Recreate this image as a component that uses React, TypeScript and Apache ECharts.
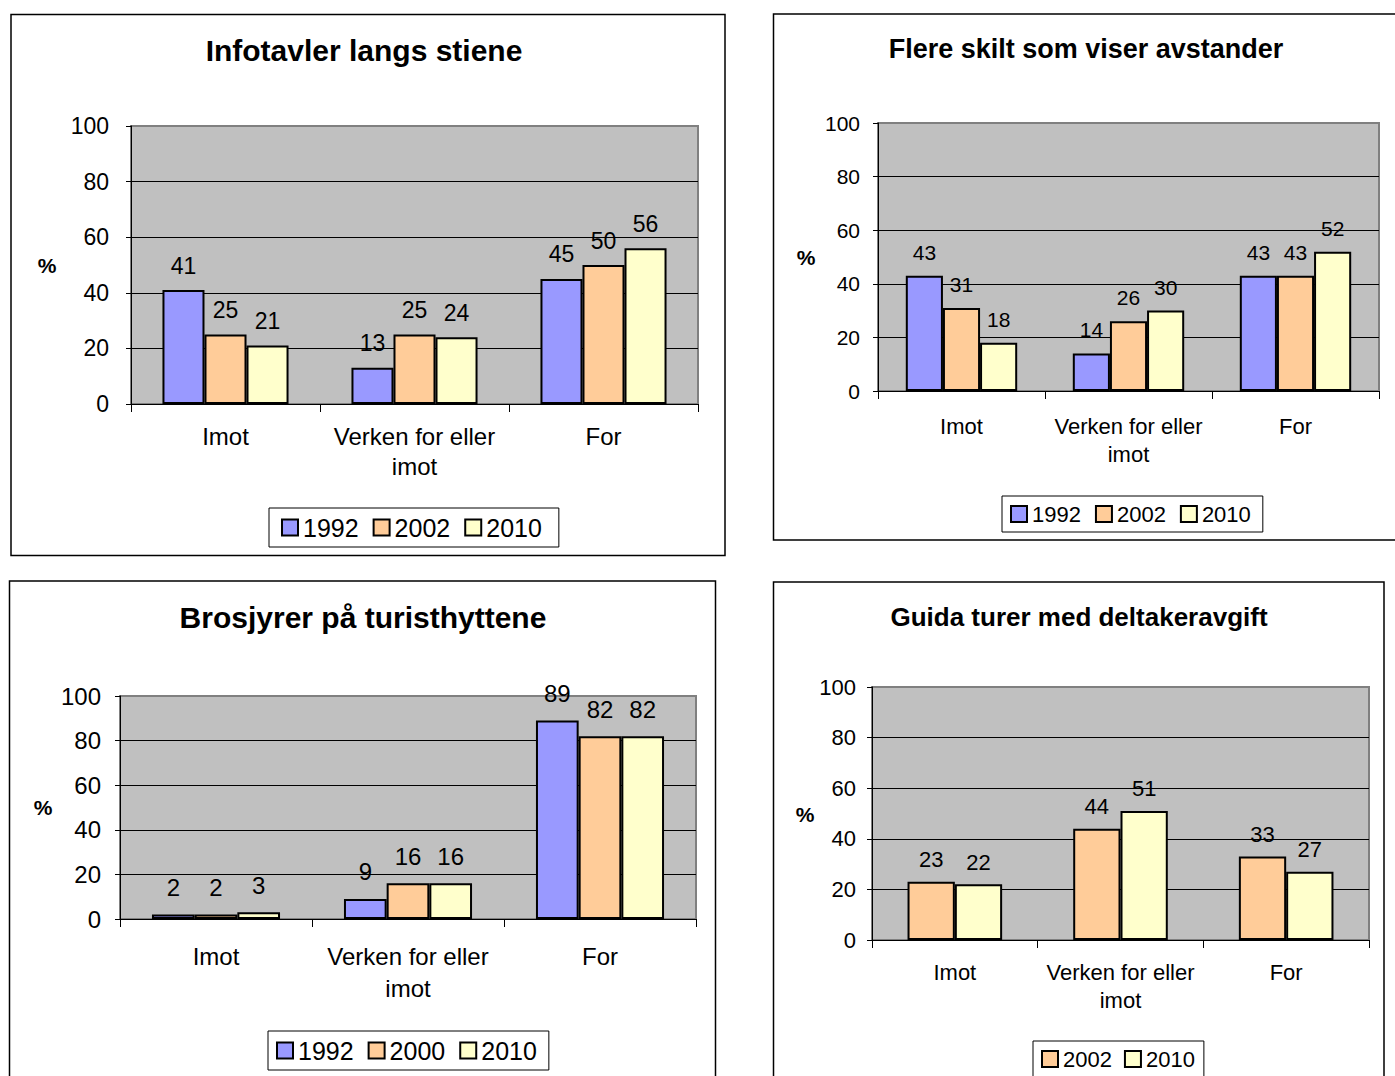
import React, { useEffect, useRef } from "react";
import * as echarts from "echarts";

const categories = ["Imot", "Verken for eller\nimot", "For"];
const yTicks = { min: 0, max: 100, interval: 20 };

// Panel 1: Infotavler langs stiene
const p1Title = "Infotavler langs stiene";
const p1Names = ["1992", "2002", "2010"];
const p1_1992 = [41, 13, 45];
const p1_2002 = [25, 25, 50];
const p1_2010 = [21, 24, 56];

// Panel 2: Flere skilt som viser avstander
const p2Title = "Flere skilt som viser avstander";
const p2Names = ["1992", "2002", "2010"];
const p2_1992 = [43, 14, 43];
const p2_2002 = [31, 26, 43];
const p2_2010 = [18, 30, 52];

// Panel 3: Brosjyrer på turisthyttene
const p3Title = "Brosjyrer på turisthyttene";
const p3Names = ["1992", "2000", "2010"];
const p3_1992 = [2, 9, 89];
const p3_2000 = [2, 16, 82];
const p3_2010 = [3, 16, 82];

// Panel 4: Guida turer med deltakeravgift
const p4Title = "Guida turer med deltakeravgift";
const p4Names = ["2002", "2010"];
const p4_2002 = [23, 44, 33];
const p4_2010 = [22, 51, 27];

const BLUE = "#9999FF";
const ORANGE = "#FFCC99";
const YELLOW = "#FFFFCC";
const FONT = '"Liberation Sans", Arial, sans-serif';

type Panel = {
  title: string;
  titleX: number;
  titleY: number;
  titleSize: number;
  pctX: number;
  pctY: number;
  frame: [number, number, number, number];
  grid: { left: number; top: number; width: number; height: number };
  font: number;
  catFont: number;
  catMargin: number;
  lineHeight: number;
  yMargin: number;
  labelDist: number;
  series: { name: string; data: number[]; color: string }[];
  legend: { left: number; top: number; font: number; gap: number; padding: number[]; names: string[] };
};

const panels: Panel[] = [
  {
    title: p1Title, titleX: 364, titleY: 50, titleSize: 30, pctX: 47, pctY: 265,
    frame: [11, 14.5, 714, 541],
    grid: { left: 131, top: 126, width: 567, height: 278 },
    font: 23, catFont: 24, catMargin: 17, lineHeight: 30, yMargin: 22, labelDist: 13,
    series: [
      { name: p1Names[0], data: p1_1992, color: BLUE },
      { name: p1Names[1], data: p1_2002, color: ORANGE },
      { name: p1Names[2], data: p1_2010, color: YELLOW },
    ],
    legend: { left: 269, top: 508, font: 25, gap: 14, padding: [7, 17, 7, 12], names: p1Names },
  },
  {
    title: p2Title, titleX: 1086, titleY: 49, titleSize: 27, pctX: 806, pctY: 257,
    frame: [773.5, 14, 640, 526],
    grid: { left: 878, top: 123, width: 501, height: 268 },
    font: 21, catFont: 22, catMargin: 21, lineHeight: 28, yMargin: 18, labelDist: 13,
    series: [
      { name: p2Names[0], data: p2_1992, color: BLUE },
      { name: p2Names[1], data: p2_2002, color: ORANGE },
      { name: p2Names[2], data: p2_2010, color: YELLOW },
    ],
    legend: { left: 1002, top: 496, font: 22, gap: 14, padding: [7, 12, 7, 8], names: p2Names },
  },
  {
    title: p3Title, titleX: 363, titleY: 617, titleSize: 30, pctX: 43, pctY: 807,
    frame: [9.5, 581, 706, 520],
    grid: { left: 120, top: 696, width: 576, height: 223 },
    font: 24, catFont: 24, catMargin: 21, lineHeight: 32, yMargin: 19, labelDist: 15,
    series: [
      { name: p3Names[0], data: p3_1992, color: BLUE },
      { name: p3Names[1], data: p3_2000, color: ORANGE },
      { name: p3Names[2], data: p3_2010, color: YELLOW },
    ],
    legend: { left: 268, top: 1031, font: 25, gap: 14, padding: [7, 12, 7, 8], names: p3Names },
  },
  {
    title: p4Title, titleX: 1079, titleY: 617, titleSize: 26, pctX: 805, pctY: 814,
    frame: [773.5, 582, 610.5, 520],
    grid: { left: 872, top: 687, width: 497, height: 253 },
    font: 22, catFont: 22, catMargin: 18, lineHeight: 28, yMargin: 16, labelDist: 11,
    series: [
      { name: p4Names[0], data: p4_2002, color: ORANGE },
      { name: p4Names[1], data: p4_2010, color: YELLOW },
    ],
    legend: { left: 1033, top: 1041, font: 22, gap: 12, padding: [7, 9, 7, 8], names: p4Names },
  },
];

function buildOption() {
  const grid: any[] = [];
  const xAxis: any[] = [];
  const yAxis: any[] = [];
  const series: any[] = [];
  const legend: any[] = [];
  const graphic: any[] = [];

  panels.forEach((p, i) => {
    grid.push({
      left: p.grid.left, top: p.grid.top, width: p.grid.width, height: p.grid.height,
      show: true, backgroundColor: "#C0C0C0", borderColor: "#808080", borderWidth: 2,
    });
    xAxis.push({
      type: "category", gridIndex: i, data: categories,
      axisLine: { lineStyle: { color: "#000", width: 1 } },
      axisTick: { show: true, length: 8, lineStyle: { color: "#000" } },
      axisLabel: { color: "#000", fontSize: p.catFont, fontFamily: FONT, margin: p.catMargin, lineHeight: p.lineHeight, interval: 0 },
    });
    yAxis.push({
      type: "value", gridIndex: i, min: yTicks.min, max: yTicks.max, interval: yTicks.interval,
      axisLine: { show: true, lineStyle: { color: "#000", width: 1 } },
      axisTick: { show: true, length: 5, lineStyle: { color: "#000" } },
      axisLabel: { color: "#000", fontSize: p.font, fontFamily: FONT, margin: p.yMargin },
      splitLine: { show: true, showMaxLine: false, showMinLine: false, lineStyle: { color: "#000", width: 1 } },
    });
    const gapPct = p.series.length === 3 ? "33.3%" : "42.9%";
    p.series.forEach((s) => {
      series.push({
        type: "bar", name: s.name, xAxisIndex: i, yAxisIndex: i, data: s.data,
        barGap: "0%", barCategoryGap: gapPct,
        itemStyle: { color: s.color, borderColor: "#000", borderWidth: 2 },
        label: {
          show: true, position: "top", distance: p.labelDist, color: "#000",
          fontSize: p.font, fontFamily: FONT,
        },
        emphasis: { disabled: true },
      });
    });
    legend.push({
      data: p.legend.names, left: p.legend.left, top: p.legend.top, orient: "horizontal",
      itemWidth: 16, itemHeight: 16, itemGap: p.legend.gap, icon: "rect",
      padding: p.legend.padding, borderColor: "#000", borderWidth: 1, backgroundColor: "#fff",
      itemStyle: { borderColor: "#000", borderWidth: 2 },
      textStyle: { color: "#000", fontSize: p.legend.font, fontFamily: FONT },
      selectedMode: false,
    });
    const [fx, fy, fw, fh] = p.frame;
    graphic.push({
      type: "rect", shape: { x: fx, y: fy, width: fw, height: fh }, z: -10,
      style: { fill: "transparent", stroke: "#000", lineWidth: 1.5 }, silent: true,
    });
    graphic.push({
      type: "text", x: p.titleX, y: p.titleY, silent: true,
      style: {
        text: p.title, fill: "#000", font: `bold ${p.titleSize}px ${FONT}`,
        textAlign: "center", textVerticalAlign: "middle", align: "center", verticalAlign: "middle",
      },
    });
    graphic.push({
      type: "text", x: p.pctX, y: p.pctY, silent: true,
      style: {
        text: "%", fill: "#000", font: `bold 21px ${FONT}`,
        textAlign: "center", textVerticalAlign: "middle", align: "center", verticalAlign: "middle",
      },
    });
  });

  return { animation: false, backgroundColor: "#fff", grid, xAxis, yAxis, series, legend, graphic };
}

export default function App() {
  const ref = useRef<HTMLDivElement>(null);
  useEffect(() => {
    if (!ref.current) return;
    const chart = echarts.init(ref.current, undefined, { renderer: "svg" });
    chart.setOption(buildOption());
    return () => chart.dispose();
  }, []);
  return (
    <div
      ref={ref}
      style={{ position: "absolute", left: 0, top: 0, width: 1395, height: 1076, background: "#fff" }}
    />
  );
}
